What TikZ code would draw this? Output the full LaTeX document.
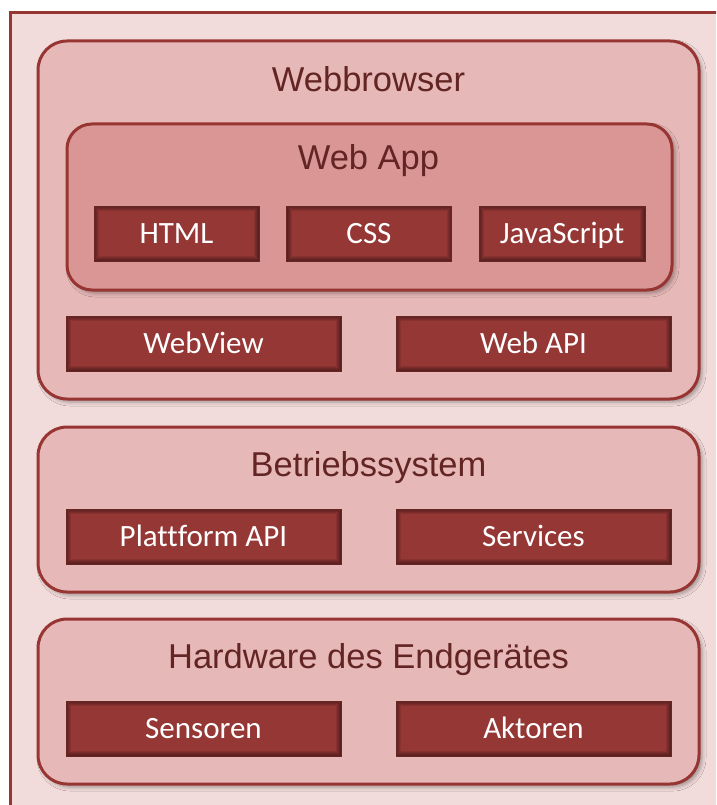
\documentclass[tikz,border=0pt]{standalone}
\usepackage{fontspec}
\setmainfont{Liberation Sans}
\newfontfamily\boxfont[Ligatures=NoCommon]{Carlito}
\usetikzlibrary{shadows.blur}
\definecolor{bgpink}{HTML}{F2DCDB}
\definecolor{panelfill}{HTML}{E6B9B8}
\definecolor{appfill}{HTML}{D99694}
\definecolor{darkred}{HTML}{953735}
\definecolor{linered}{HTML}{973533}
\definecolor{titlered}{HTML}{632523}
\tikzset{
  panel/.style={draw=linered, line width=3pt, fill=panelfill, rounded corners=29pt,
    inner sep=0pt, outer sep=0pt,
    blur shadow={shadow xshift=3pt, shadow yshift=-3pt, shadow blur radius=4pt, shadow opacity=35}},
  apppanel/.style={panel, fill=appfill, rounded corners=25pt},
  paneltitle/.style={font=\fontsize{34.5}{40}\selectfont, text=titlered, inner sep=0pt, text height=24pt, text depth=0pt},
  darkbox/.style={fill=darkred, draw=darkred!70!black, line width=0.8pt, inner sep=0pt, outer sep=0pt,
    text=white, font=\boxfont\fontsize{31}{36}\selectfont, text height=20pt, text depth=0pt,
    path picture={
      \foreach \w in {2,4,6,8,10}{
        \draw[black, opacity=0.09, line width=\w pt]
          (path picture bounding box.north west) rectangle (path picture bounding box.south east);
      }
    }},
}
\begin{document}
\begin{tikzpicture}[x=1pt, y=-1pt]
\useasboundingbox (0,0) rectangle (716,805);
\clip (0,0) rectangle (716,805);
% outer frame
\node[draw=linered, line width=3pt, fill=bgpink, inner sep=0pt, minimum width=730pt, minimum height=820pt] (frame) at (375,423) {};

% Webbrowser
\node[panel, minimum width=661pt, minimum height=358pt] (wb) at (368.5,220) {};
\node[paneltitle] (wbt) at (368.5,80) {Webbrowser};
\node[apppanel, minimum width=605pt, minimum height=166pt] (app) at (369.5,207) {};
\node[paneltitle] (appt) at (368.5,158) {Web App};
\node[darkbox, minimum width=165pt, minimum height=55pt] (html) at (176.5,233.5) {HTML};
\node[darkbox, minimum width=165pt, minimum height=55pt] (css) at (369,233.5) {CSS};
\node[darkbox, minimum width=166pt, minimum height=55pt] (js) at (562,233.5) {JavaScript};
\node[darkbox, minimum width=275pt, minimum height=55pt] (webview) at (203.5,343.5) {WebView};
\node[darkbox, minimum width=275pt, minimum height=55pt] (webapi) at (533.5,343.5) {Web API};

% Betriebssystem
\node[panel, minimum width=661pt, minimum height=165pt] (os) at (368.5,509.5) {};
\node[paneltitle] (ost) at (368.5,464) {Betriebssystem};
\node[darkbox, minimum width=275pt, minimum height=55pt] (papi) at (203.5,536.5) {Plattform API};
\node[darkbox, minimum width=275pt, minimum height=55pt] (serv) at (533.5,536.5) {Services};

% Hardware
\node[panel, minimum width=661pt, minimum height=165pt] (hw) at (368.5,701.5) {};
\node[paneltitle] (hwt) at (368.5,656) {Hardware des Endgerätes};
\node[darkbox, minimum width=275pt, minimum height=55pt] (sens) at (203.5,728.5) {Sensoren};
\node[darkbox, minimum width=275pt, minimum height=55pt] (akt) at (533.5,728.5) {Aktoren};
\end{tikzpicture}
\end{document}
